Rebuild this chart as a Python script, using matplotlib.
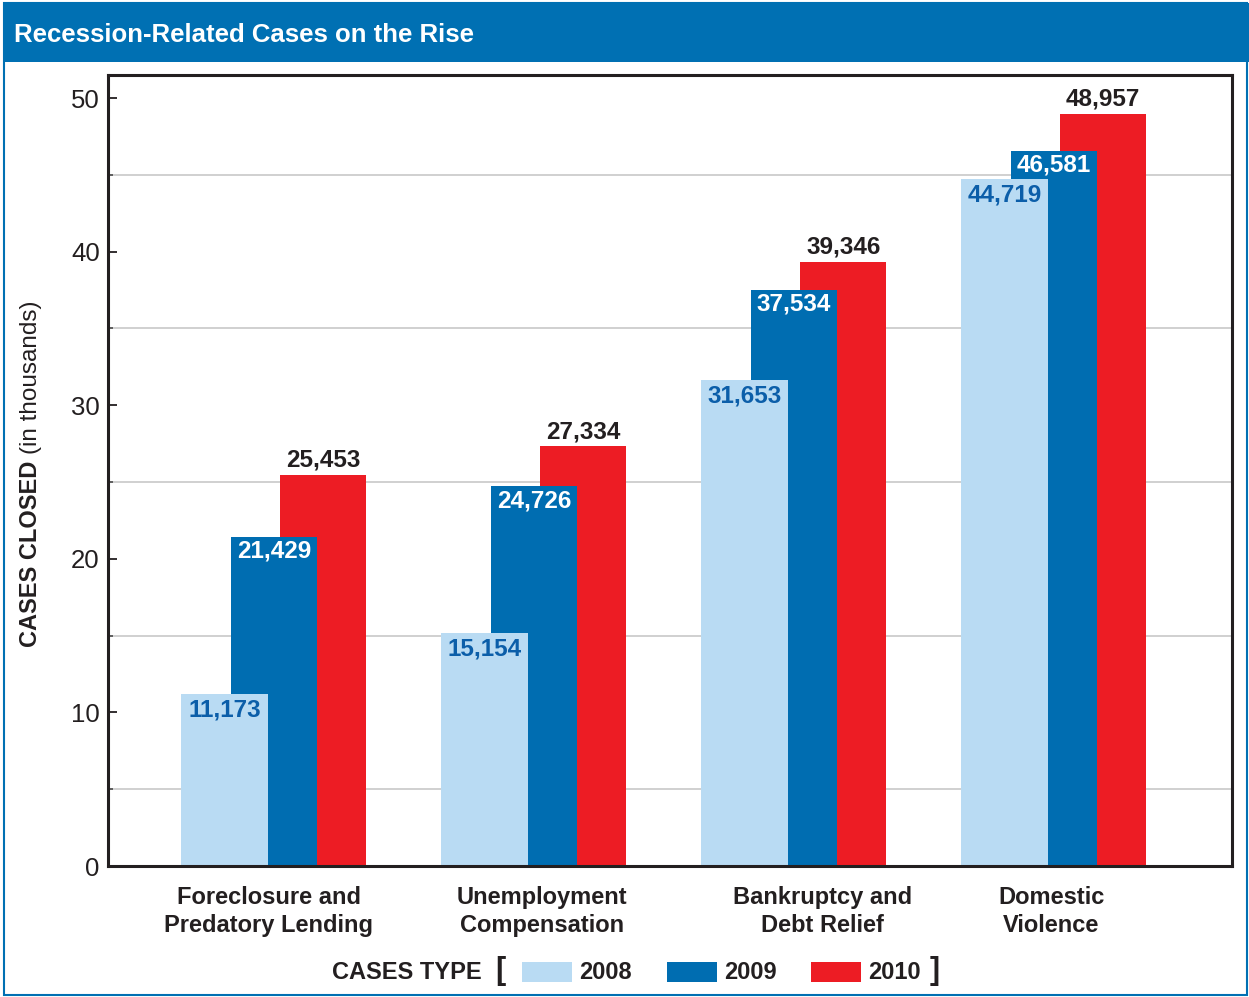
import matplotlib
matplotlib.use('Agg')
import matplotlib.pyplot as plt
from matplotlib.patches import Rectangle
import numpy as np

# ---------------- data ----------------
categories = ["Foreclosure and\nPredatory Lending", "Unemployment\nCompensation",
              "Bankruptcy and\nDebt Relief", "Domestic\nViolence"]
years = ["2008", "2009", "2010"]
cases_2008 = [11173, 15154, 31653, 44719]
cases_2009 = [21429, 24726, 37534, 46581]
cases_2010 = [25453, 27334, 39346, 48957]
y_ticks = [0, 10, 20, 30, 40, 50]
title = "Recession-Related Cases on the Rise"

# ---------------- style ----------------
plt.rcParams['font.family'] = ['Liberation Sans', 'DejaVu Sans']
W, H = 1249, 997
fig = plt.figure(figsize=(W / 100, H / 100), dpi=100)


def fx(x):
    return x / W


def fy(y):
    return 1 - y / H


HEADER = '#0070b3'
LIGHT = '#b9dbf3'
DARK = '#006db1'
RED = '#ed1c24'
TXT = '#231f20'
LBL08 = '#0b5ea9'

# outer frame and header
fig.patches.append(Rectangle((fx(4), fy(995)), fx(1247) - fx(4), fy(3) - fy(995),
                             transform=fig.transFigure, fill=False,
                             edgecolor=HEADER, lw=1.5))
fig.patches.append(Rectangle((fx(4), fy(62)), fx(1249) - fx(4), fy(3) - fy(62),
                             transform=fig.transFigure, facecolor=HEADER,
                             edgecolor='none'))
fig.text(fx(14), fy(35), title, color='white', fontsize=18.5,
         fontweight='bold', va='center', ha='left')

# ---------------- axes ----------------
ax = fig.add_axes([fx(108), fy(866), fx(1232) - fx(108), fy(75) - fy(866)])
ax.set_xlim(-0.638, 3.685)
ax.set_ylim(0, 51.5)

x = np.arange(len(categories))
width = 0.331
offs = [-0.19, 0.0, 0.19]
series = [cases_2008, cases_2009, cases_2010]
colors = [LIGHT, DARK, RED]
zords = [4, 3, 2]

for vals, off, c, z in zip(series, offs, colors, zords):
    ax.bar(x + off, np.array(vals) / 1000.0, width=width, color=c,
           zorder=z, linewidth=0)

# value labels
for i in range(len(categories)):
    v = cases_2008[i]
    ax.annotate(f"{v:,}", xy=(x[i] + offs[0], v / 1000.0), xytext=(0, -11.5),
                textcoords='offset points', ha='center', va='center',
                fontsize=17.5, fontweight='bold', color=LBL08, zorder=10)
    v = cases_2009[i]
    ax.annotate(f"{v:,}", xy=(x[i] + offs[1], v / 1000.0), xytext=(0, -10.5),
                textcoords='offset points', ha='center', va='center',
                fontsize=17.5, fontweight='bold', color='white', zorder=10)
    v = cases_2010[i]
    ax.annotate(f"{v:,}", xy=(x[i] + offs[2], v / 1000.0), xytext=(0, 10.5),
                textcoords='offset points', ha='center', va='center',
                fontsize=17.5, fontweight='bold', color=TXT, zorder=10)

# axes styling
for s in ax.spines.values():
    s.set_linewidth(2.2)
    s.set_color(TXT)
    s.set_zorder(6)
ax.set_yticks(y_ticks)
ax.set_yticklabels([str(t) for t in y_ticks])
ax.tick_params(axis='y', which='major', direction='in', length=6.5, width=1.3,
               color=TXT, labelsize=18.5, labelcolor=TXT, pad=6)
ax.tick_params(axis='y', which='minor', direction='in', length=3.5, width=1.3,
               color='#555555')
ax.set_xticks([])
# gridlines only at the odd 5s
ax.set_yticks([5, 15, 25, 35, 45], minor=True)
ax.grid(False)
ax.yaxis.grid(True, which='minor', color='#c4c4c4', lw=1.1, zorder=0)
ax.set_axisbelow(True)

# category labels
label_x = [-0.02, 1.03, 2.11, 2.99]
for lx, cat in zip(label_x, categories):
    ax.annotate(cat, xy=(lx, 0), xycoords=('data', 'axes fraction'),
                xytext=(0, -32.5), textcoords='offset points', ha='center',
                va='center', fontsize=17, fontweight='bold', color=TXT,
                linespacing=1.27, annotation_clip=False)

# y label (bold + regular)
fig.text(fx(31), fy(647), "CASES CLOSED", rotation=90, ha='center',
         va='bottom', fontsize=17, fontweight='bold', color=TXT)
fig.text(fx(31), fy(454), "(in thousands)", rotation=90, ha='center',
         va='bottom', fontsize=17.5, color=TXT)

# ---------------- legend ----------------
fig.text(fx(332), fy(972), "CASES TYPE", ha='left', va='center', fontsize=17,
         fontweight='bold', color=TXT)
fig.text(fx(500), fy(971), "[", ha='center', va='center', fontsize=22,
         fontweight='bold', color=TXT)
fig.text(fx(935), fy(971), "]", ha='center', va='center', fontsize=22,
         fontweight='bold', color=TXT)
patch_x = [522, 667, 811]
text_x = [579, 724, 868]
for px_, tx_, c, yr in zip(patch_x, text_x, colors, years):
    fig.patches.append(Rectangle((fx(px_), fy(982)), fx(50), fy(962) - fy(982),
                                 transform=fig.transFigure, facecolor=c,
                                 edgecolor='none'))
    fig.text(fx(tx_), fy(972), yr, ha='left', va='center', fontsize=17,
             fontweight='bold', color=TXT)

fig.savefig('out.png', dpi=100)
